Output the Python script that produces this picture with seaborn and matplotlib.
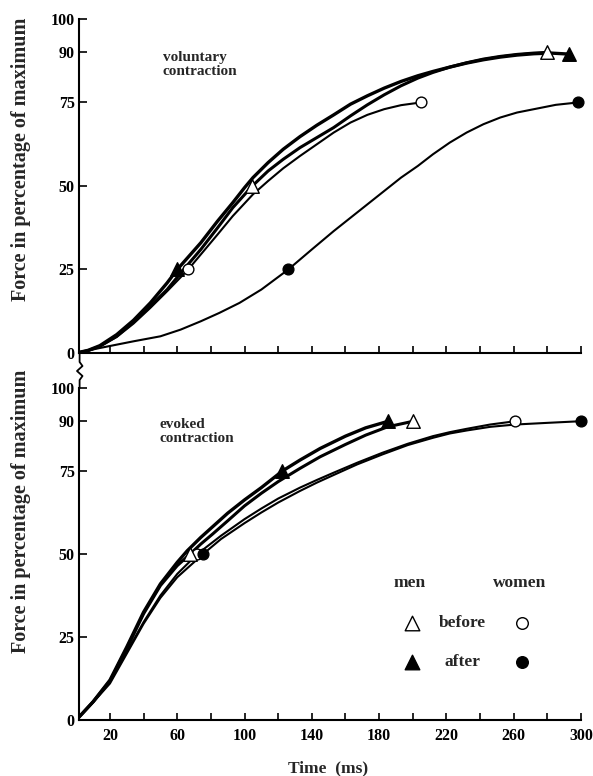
import numpy as np
import pandas as pd
import matplotlib
matplotlib.use("Agg")
import matplotlib.pyplot as plt
import seaborn as sns
from matplotlib.lines import Line2D

# ---------------- data (time in ms, force in % of maximum) ----------------
# Voluntary contraction curves
vol_men_after_t = [0, 7, 14, 24, 34, 44, 54, 60, 67, 74, 84, 93, 100, 105, 114, 123, 133, 143, 153,
                   163, 173, 183, 193, 203, 212, 222, 232, 242, 252, 262, 272, 282, 292.7]
vol_men_after_f = [0, 0.8, 2.2, 5.5, 9.8, 15, 21, 25, 29, 33, 39.5, 45, 49.5, 52.5, 57, 61, 64.8, 68.2, 71.3,
                   74.5, 77, 79.3, 81.3, 83, 84.3, 85.6, 86.8, 87.8, 88.6, 89.2, 89.6, 89.8, 89.5]
vol_men_before_t = [0, 7, 14, 24, 34, 44, 54, 63, 74, 84, 93, 104.6, 114, 123, 133, 143, 153, 163, 173,
                    183, 193, 203, 212, 222, 232, 242, 252, 262, 272, 279.6]
vol_men_before_f = [0, 0.7, 2, 5, 9.3, 14, 19, 24.5, 31, 37.5, 43.5, 50, 54.5, 58, 61.5, 64.5, 67.5, 71, 74.3,
                    77.3, 80, 82.3, 84, 85.6, 86.9, 88, 88.8, 89.4, 89.8, 90]
vol_women_before_t = [0, 7, 14, 24, 34, 44, 54, 66.5, 74, 84, 93, 105, 114, 123, 133, 143, 153, 163, 173,
                      183, 193, 204.6]
vol_women_before_f = [0, 0.7, 2, 4.8, 8.8, 13.5, 18.5, 25, 29.5, 35.5, 41, 47.5, 51.5, 55.3, 59, 62.5, 66, 69, 71.3,
                      73, 74.2, 75]
vol_women_after_t = [0, 14, 34, 50, 62, 74, 85, 97, 110, 126, 140, 153, 163, 173, 183, 193, 203, 212,
                     222, 232, 242, 252, 262, 272, 285, 298]
vol_women_after_f = [0, 1.5, 3.5, 5, 7, 9.5, 12, 15, 19, 25, 31, 36.5, 40.5, 44.5, 48.5, 52.5, 56, 59.5,
                     63, 66, 68.5, 70.5, 72, 73, 74.3, 75]

# Voluntary contraction markers
vol_mb_mark_t = [104.6, 279.6]
vol_mb_mark_f = [50, 90]
vol_ma_mark_t = [60, 292.7]
vol_ma_mark_f = [25, 89.5]
vol_wb_mark_t = [66.5, 204.6]
vol_wb_mark_f = [25, 75]
vol_wa_mark_t = [126, 298]
vol_wa_mark_f = [25, 75]

# Evoked contraction curves
evo_men_after_t = [0, 10, 20, 30, 40, 50, 60, 66, 74, 81, 90, 100, 110, 122.5, 133, 145, 160, 172, 185.5]
evo_men_after_f = [0, 5.5, 12, 22, 32.5, 41, 47.5, 51, 55, 58.2, 62.3, 66.3, 70, 75, 78.3, 81.8, 85.5, 88, 90]
evo_men_before_t = [0, 10, 20, 30, 40, 50, 60, 67.7, 74, 81, 90, 100, 110, 120, 133, 145, 160, 172, 185, 200.4]
evo_men_before_f = [0, 5.5, 11.8, 21.5, 32, 40.5, 46.5, 50, 53, 56, 60, 64.5, 68.3, 71.8, 75.8, 79.3, 83, 85.8, 88.3, 90]
evo_women_before_t = [0, 10, 20, 30, 40, 50, 60, 72, 86, 100, 110, 120, 133, 143, 153, 167, 182, 197,
                      212, 222, 232, 246, 261]
evo_women_before_f = [0, 5.5, 11.5, 20.5, 29.5, 37.5, 44, 50, 55.5, 60.5, 63.7, 66.7, 70, 72.3, 74.5, 77.5, 80.5, 83.2,
                      85.5, 86.7, 87.7, 89, 90]
evo_women_after_t = [0, 10, 20, 30, 40, 50, 60, 75.4, 86, 100, 110, 120, 133, 143, 153, 167, 182, 197,
                     212, 222, 232, 246, 261, 280, 300]
evo_women_after_f = [0, 5.3, 11, 20, 29, 36.8, 43, 50, 54.5, 59.3, 62.5, 65.5, 69, 71.5, 73.8, 77, 80, 82.8,
                     85, 86.3, 87.2, 88.3, 89, 89.5, 90]

# Evoked contraction markers
evo_mb_mark_t = [67.7, 200.4]
evo_mb_mark_f = [50, 90]
evo_ma_mark_t = [122.5, 185.5]
evo_ma_mark_f = [75, 90]
evo_wb_mark_t = [72, 261]
evo_wb_mark_f = [50, 90]
evo_wa_mark_t = [75.4, 300]
evo_wa_mark_f = [50, 90]

y_ticks = [0, 25, 50, 75, 90, 100]
x_major = [20, 60, 100, 140, 180, 220, 260, 300]
x_minor = [40, 80, 120, 160, 200, 240, 280]

# ---------------- style ----------------
sns.set_style("ticks")
plt.rcParams['font.family'] = ['Liberation Serif', 'DejaVu Serif']
plt.rcParams['font.weight'] = 'bold'
plt.rcParams['lines.solid_joinstyle'] = 'round'
plt.rcParams['lines.solid_capstyle'] = 'round'

W, H = 593, 776
fig = plt.figure(figsize=(W / 100, H / 100), dpi=100)

def px_axes(x0, x1, ytop, ybot):
    return fig.add_axes([x0 / W, 1 - ybot / H, (x1 - x0) / W, (ybot - ytop) / H])

ax1 = px_axes(79, 581, 19, 353)
ax2 = px_axes(79, 581, 388, 720)

def style_axis(ax, show_xlabels):
    ax.set_xlim(1.6, 300)
    ax.set_ylim(0, 100)
    for s in ['top', 'right']:
        ax.spines[s].set_visible(False)
    for s in ['left', 'bottom']:
        ax.spines[s].set_linewidth(1.5)
        ax.spines[s].set_color('black')
    ax.set_yticks(y_ticks)
    ax.set_yticklabels([str(v) for v in y_ticks], fontsize=11.5, fontweight='bold')
    ax.set_xticks(x_major)
    ax.set_xticks(x_minor, minor=True)
    if show_xlabels:
        ax.set_xticklabels([str(v) for v in x_major], fontsize=11.5, fontweight='bold')
    else:
        ax.set_xticklabels([])
    ax.tick_params(axis='y', direction='in', length=6, width=1.2, pad=3, colors='black')
    ax.tick_params(axis='x', which='both', direction='in', length=5, width=1.2, pad=6, colors='black')
    ax.set_xlabel('')
    ax.set_ylabel('')
    ax.patch.set_alpha(0)

def draw_line(ax, t, f, lw):
    sns.lineplot(x=t, y=f, ax=ax, color='black', linewidth=lw, sort=False,
                 estimator=None, legend=False, zorder=3)

def draw_marks(ax, t, f, marker, filled):
    s = 95 if marker == '^' else 60
    sns.scatterplot(x=t, y=f, ax=ax, marker=marker, s=s,
                    color='black' if filled else 'white', edgecolor='black',
                    linewidth=1.0, zorder=6, clip_on=False, legend=False)

# ---- top panel (voluntary) ----
draw_line(ax1, vol_women_after_t, vol_women_after_f, 1.5)
draw_line(ax1, vol_women_before_t, vol_women_before_f, 1.5)
draw_line(ax1, vol_men_before_t, vol_men_before_f, 2.2)
draw_line(ax1, vol_men_after_t, vol_men_after_f, 2.4)
draw_marks(ax1, vol_wb_mark_t, vol_wb_mark_f, 'o', False)
draw_marks(ax1, vol_wa_mark_t, vol_wa_mark_f, 'o', True)
draw_marks(ax1, vol_ma_mark_t, vol_ma_mark_f, '^', True)
draw_marks(ax1, vol_mb_mark_t, vol_mb_mark_f, '^', False)
style_axis(ax1, False)
ax1.text(0.167, 0.905, 'voluntary\ncontraction', transform=ax1.transAxes,
         fontsize=11, fontweight='bold', va='top', ha='left', linespacing=1.1)

# ---- bottom panel (evoked) ----
draw_line(ax2, evo_women_after_t, evo_women_after_f, 1.5)
draw_line(ax2, evo_women_before_t, evo_women_before_f, 1.5)
draw_line(ax2, evo_men_before_t, evo_men_before_f, 2.2)
draw_line(ax2, evo_men_after_t, evo_men_after_f, 2.4)
draw_marks(ax2, evo_wb_mark_t, evo_wb_mark_f, 'o', False)
draw_marks(ax2, evo_wa_mark_t, evo_wa_mark_f, 'o', True)
draw_marks(ax2, evo_mb_mark_t, evo_mb_mark_f, '^', False)
draw_marks(ax2, evo_ma_mark_t, evo_ma_mark_f, '^', True)
style_axis(ax2, True)
ax2.text(0.161, 0.91, 'evoked\ncontraction', transform=ax2.transAxes,
         fontsize=11, fontweight='bold', va='top', ha='left', linespacing=1.1)

# legend block
tr = ax2.transAxes
ax2.text(0.659, 0.413, 'men', transform=tr, fontsize=12.5, fontweight='bold', ha='center', va='center')
ax2.text(0.878, 0.413, 'women', transform=tr, fontsize=12.5, fontweight='bold', ha='center', va='center')
ax2.text(0.763, 0.292, 'before', transform=tr, fontsize=12.5, fontweight='bold', ha='center', va='center')
ax2.text(0.763, 0.175, 'after', transform=tr, fontsize=12.5, fontweight='bold', ha='center', va='center')
ax2.scatter([0.663], [0.292], transform=tr, marker='^', s=110, facecolor='white', edgecolor='black', linewidth=1.0, clip_on=False)
ax2.scatter([0.663], [0.175], transform=tr, marker='^', s=110, facecolor='black', edgecolor='black', linewidth=1.0, clip_on=False)
ax2.scatter([0.882], [0.292], transform=tr, marker='o', s=70, facecolor='white', edgecolor='black', linewidth=1.0, clip_on=False)
ax2.scatter([0.882], [0.175], transform=tr, marker='o', s=70, facecolor='black', edgecolor='black', linewidth=1.0, clip_on=False)

# axis titles
fig.text(21 / W, 1 - 159 / H, 'Force in percentage of maximum', rotation=90,
         fontsize=14.5, fontweight='bold', ha='center', va='center')
fig.text(21 / W, 1 - 511 / H, 'Force in percentage of maximum', rotation=90,
         fontsize=14.5, fontweight='bold', ha='center', va='center')
fig.text(328 / W, 1 - 768 / H, 'Time  (ms)', fontsize=12.5, fontweight='bold',
         ha='center', va='center')

# axis break squiggle between the panels
sq_x = np.array([79.6, 79.6, 82.5, 77.0, 82.5, 79.6, 79.6])
sq_y = np.array([353, 362, 366, 371, 376, 380, 388])
fig.add_artist(Line2D(sq_x / W, 1 - sq_y / H, transform=fig.transFigure,
                      color='black', linewidth=1.3))

fig.savefig('out.png', dpi=100)
